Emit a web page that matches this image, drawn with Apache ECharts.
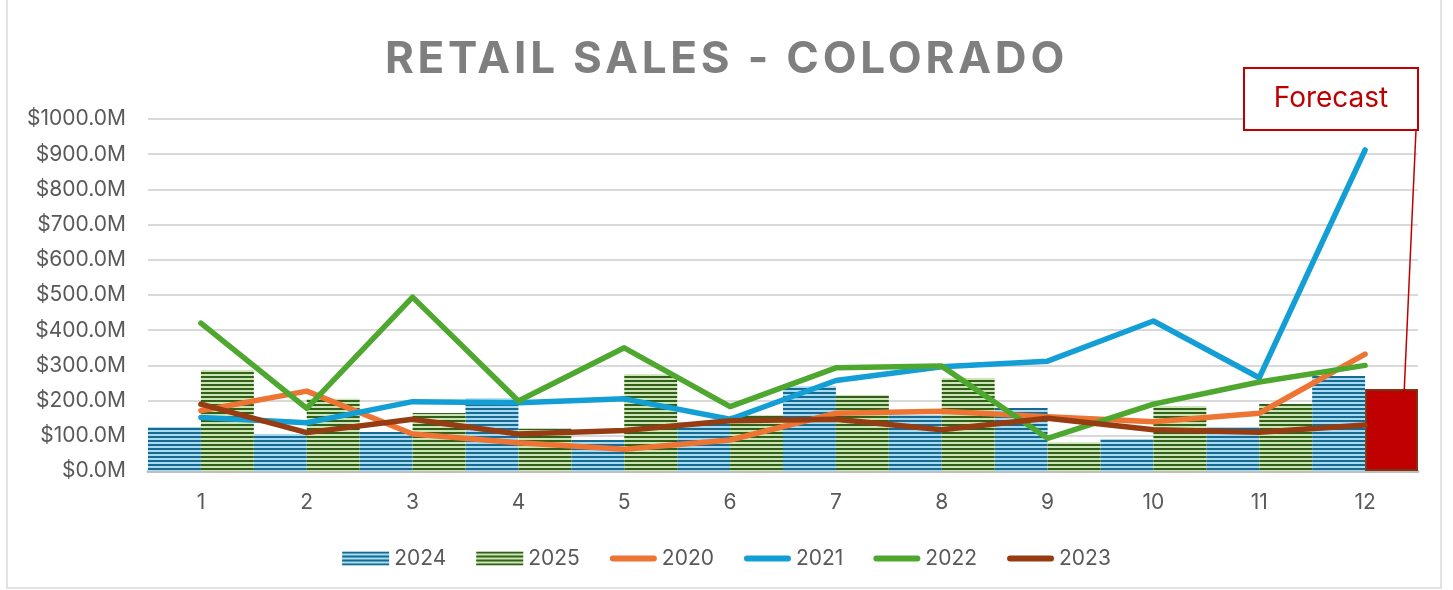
<!DOCTYPE html>
<head>
    <meta charset="utf-8">
    <title>Retail Sales - Colorado</title>
    <style>
        html, body { margin: 0; padding: 0; background: #fff; }
        #wrap { position: relative; width: 1453px; height: 590px; }
        #main { width: 1453px; height: 590px; }
        #title {
            position: absolute; left: 0; top: 30px; width: 1453px;
            text-align: center; font-family: Inter, "Open Sans", sans-serif;
            font-weight: bold; font-size: 44px; letter-spacing: 3.8px;
            color: #7f7f7f; line-height: 54px;
        }
    </style>
</head>
<body>
<div id="wrap">
    <div id="main"></div>
    <div id="title">RETAIL SALES - COLORADO</div>
</div>

<script src="https://cdn.jsdelivr.net/npm/echarts@6/dist/echarts.min.js"></script>
<script type="text/javascript">
    // months
    var months = ['1', '2', '3', '4', '5', '6', '7', '8', '9', '10', '11', '12'];
    // bars ($M)
    var sales2024 = [125, 105, 111, 207, 88, 139, 241, 159, 179, 91, 125, 270];
    var sales2025 = [287, 205, 165, 120, 275, 159, 216, 264, 82, 185, 190, 233];
    // lines ($M)
    var sales2020 = [171, 227, 105, 80, 62, 88, 164, 170, 154, 140, 164, 332];
    var sales2021 = [152, 137, 197, 194, 205, 147, 257, 296, 312, 426, 265, 912];
    var sales2022 = [420, 178, 494, 199, 350, 183, 293, 298, 93, 190, 253, 300];
    var sales2023 = [190, 109, 147, 105, 115, 143, 147, 117, 150, 117, 110, 131];
    var forecastIndex = 11;

    // striped fills like the excel pattern bars
    function stripes(dark, light) {
        var c = document.createElement('canvas');
        c.width = 4; c.height = 4;
        var ctx = c.getContext('2d');
        ctx.fillStyle = light;
        ctx.fillRect(0, 0, 4, 4);
        ctx.fillStyle = dark;
        ctx.fillRect(0, 0, 4, 2);
        return { image: c, repeat: 'repeat' };
    }
    var blueFill = stripes('#176a91', '#a8daf0');
    var greenFill = stripes('#325f1a', '#cbe5b4');

    var data2025 = sales2025.map(function (v, i) {
        if (i === forecastIndex) {
            return { value: v, itemStyle: { color: '#c00000', borderColor: '#7e3410', borderWidth: 2 } };
        }
        return v;
    });

    var lineIcon = 'path://M3,0 H44 A3,3 0 0 1 44,6 H3 A3,3 0 0 1 3,0 Z';

    function lineSeries(name, values, color) {
        return {
            name: name,
            type: 'line',
            data: values,
            symbol: 'none',
            z: 3,
            lineStyle: { color: color, width: 5.5, cap: 'round', join: 'round' },
            itemStyle: { color: color }
        };
    }

    var chart = echarts.init(document.getElementById('main'));
    chart.setOption({
        backgroundColor: '#fff',
        animation: false,
        textStyle: { fontFamily: 'Inter, "Open Sans", sans-serif' },
        grid: { left: 148, right: 35, top: 119, bottom: 119 },
        legend: {
            left: 'center',
            top: 543,
            itemWidth: 47,
            itemHeight: 14,
            itemGap: 30,
            textStyle: { fontSize: 21, color: '#595959' },
            data: [
                { name: '2024', icon: 'rect' },
                { name: '2025', icon: 'rect' },
                { name: '2020', icon: lineIcon },
                { name: '2021', icon: lineIcon },
                { name: '2022', icon: lineIcon },
                { name: '2023', icon: lineIcon }
            ]
        },
        xAxis: {
            type: 'category',
            data: months,
            axisLine: { lineStyle: { color: '#bfbfbf', width: 3 } },
            axisTick: { show: false },
            axisLabel: { fontSize: 21, color: '#595959', margin: 21 }
        },
        yAxis: {
            type: 'value',
            min: 0,
            max: 1000,
            interval: 100,
            axisLine: { show: false },
            axisTick: { show: false },
            splitLine: { lineStyle: { color: '#d9d9d9', width: 2 } },
            axisLabel: {
                fontSize: 21, color: '#595959', margin: 22,
                formatter: function (v) { return '$' + v.toFixed(1) + 'M'; }
            }
        },
        series: [
            { name: '2024', type: 'bar', data: sales2024, barGap: '0%', barCategoryGap: '0%',
              itemStyle: { color: blueFill } },
            { name: '2025', type: 'bar', data: data2025, barGap: '0%', barCategoryGap: '0%',
              itemStyle: { color: greenFill } },
            lineSeries('2020', sales2020, '#ed7432'),
            lineSeries('2021', sales2021, '#139fd6'),
            lineSeries('2022', sales2022, '#4ea72e'),
            lineSeries('2023', sales2023, '#963c12')
        ],
        graphic: [
            { type: 'rect', shape: { x: 7, y: -5, width: 1434, height: 593 },
              style: { fill: 'none', stroke: '#d9d9d9', lineWidth: 1.5 }, silent: true },
            { type: 'line', shape: { x1: 1416, y1: 130, x2: 1404, y2: 395 },
              style: { stroke: '#c00000', lineWidth: 1.5 }, z: 10 },
            { type: 'rect', shape: { x: 1244, y: 68, width: 174, height: 62 },
              style: { fill: '#fff', stroke: '#c00000', lineWidth: 2 }, z: 10 },
            { type: 'text', x: 1331, y: 99, z: 11,
              style: { text: 'Forecast', fill: '#c00000', fontSize: 28,
                       fontFamily: 'Inter, "Open Sans", sans-serif',
                       align: 'center', verticalAlign: 'middle' } }
        ]
    });
</script>
</body>
